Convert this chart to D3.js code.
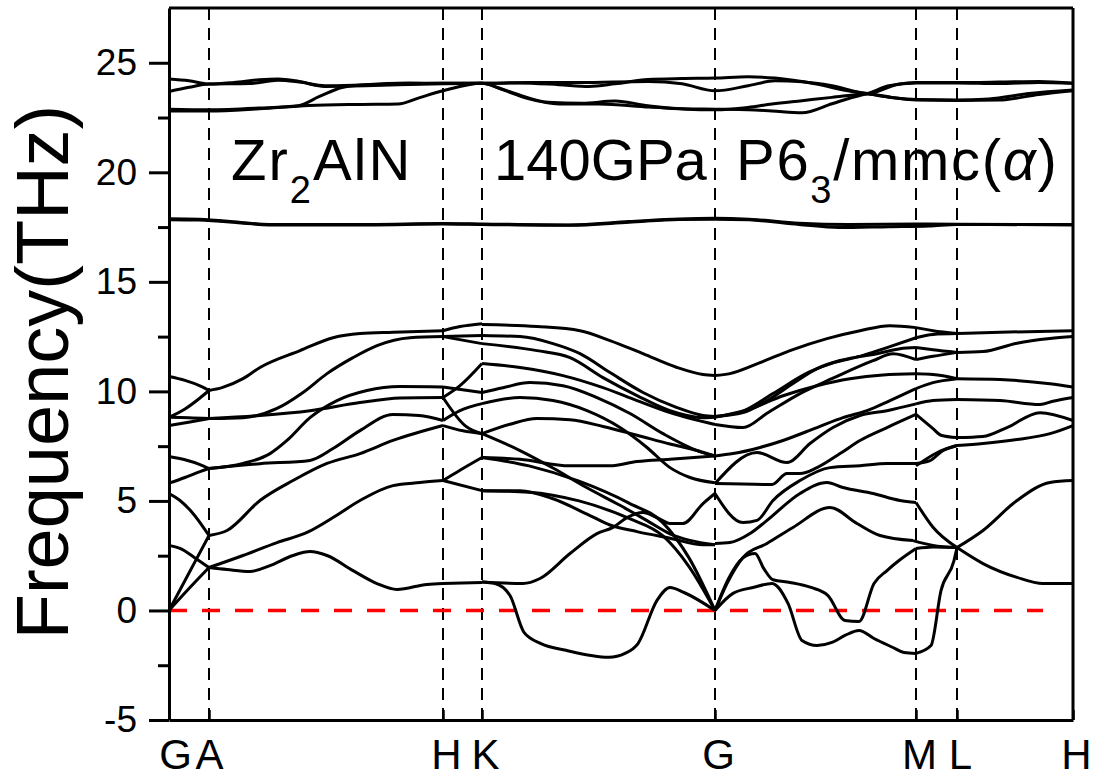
<!DOCTYPE html>
<html>
<head>
<meta charset="utf-8">
<script src="https://d3js.org/d3.v7.min.js"></script>
<style>
 body { margin: 0px; background: white; }
 text { font-family: "Liberation Sans", Arial, sans-serif; }
</style>
</head>
<body>
<svg id="mysvg"></svg>
<script>
// high symmetry points along the path (path distance, arbitrary units)
var kPoints = [0, 0.40, 2.74, 3.13, 5.46, 7.47, 7.88, 9.04];
var kLabels = ["G", "A", "H", "K", "G", "M", "L", "H"];
var yTicks = [-5, 0, 5, 10, 15, 20, 25];

// phonon branches [k, frequency THz]
var bandsGA = [
  [[0,10.68],[0.16,10.5],[0.31,10.25],[0.40,10.04]],
  [[0,8.82],[0.16,9.2],[0.31,9.7],[0.40,10.04]],
  [[0,8.82],[0.2,8.8],[0.40,8.76]],
  [[0,8.44],[0.21,8.6],[0.40,8.76]],
  [[0,7.03],[0.16,6.88],[0.31,6.66],[0.40,6.48]],
  [[0,5.81],[0.16,6.07],[0.31,6.34],[0.40,6.48]],
  [[0,5.33],[0.11,5.02],[0.24,4.43],[0.40,3.42]],
  [[0,2.97],[0.11,2.83],[0.26,2.4],[0.40,1.96]],
  [[0,0],[0.2,1.71],[0.40,3.42]],
  [[0,0],[0.2,1.0],[0.40,1.96]]
];

var bandsAH = [
  [[0.40,10.04],[0.53,10.17],[0.74,10.58],[0.91,11.09],[1.31,11.86],[1.64,12.45],[1.91,12.64],[2.24,12.7],[2.74,12.77]],
  [[0.40,8.76],[0.74,8.8],[1.08,9.22],[1.34,9.95],[1.58,10.81],[1.84,11.54],[2.08,12.09],[2.41,12.45],[2.74,12.5]],
  [[0.40,8.76],[0.91,8.9],[1.41,9.12],[1.91,9.49],[2.31,9.7],[2.74,9.72]],
  [[0.40,6.48],[0.74,6.71],[1.01,7.16],[1.18,7.76],[1.41,8.8],[1.68,9.58],[1.98,10.04],[2.31,10.22],[2.74,10.2]],
  [[0.40,6.48],[0.91,6.7],[1.41,6.85],[1.64,7.39],[1.91,8.21],[2.24,8.95],[2.5,8.9],[2.74,8.67]],
  [[0.40,3.42],[0.58,3.65],[0.91,5.02],[1.24,5.93],[1.58,6.71],[1.91,7.16],[2.24,7.76],[2.74,8.44]],
  [[0.40,1.96],[0.74,2.51],[1.08,3.1],[1.38,3.56],[1.64,4.24],[1.91,5.02],[2.24,5.7],[2.51,5.84],[2.74,5.93]],
  [[0.40,1.96],[0.58,1.87],[0.81,1.78],[1.01,2.05],[1.24,2.51],[1.41,2.69],[1.58,2.51],[1.84,1.82],[2.08,1.23],[2.28,0.96],[2.58,1.19],[2.74,1.23]]
];

var bandsHK = [
  [[2.74,12.77],[2.91,12.96],[3.13,13.09]],
  [[2.74,12.5],[3.13,12.55]],
  [[2.74,12.5],[3.13,12.18]],
  [[2.74,9.72],[2.91,10.26],[3.13,11.27]],
  [[2.74,10.2],[3.13,9.95]],
  [[2.74,8.67],[2.91,9.12],[3.13,9.44]],
  [[2.74,9.72],[2.96,8.44],[3.13,8.07]],
  [[2.74,8.44],[2.94,8.2],[3.13,8.07]],
  [[2.74,5.93],[2.91,6.4],[3.13,6.98]],
  [[2.74,5.93],[3.13,5.47]],
  [[2.74,1.23],[3.13,1.28]]
];

var bandsKG = [
  [[3.13,13.05],[3.68,12.96],[4.11,12.77],[4.41,12.32],[4.74,11.72],[5.08,11.09],[5.34,10.77],[5.46,10.72]],
  [[3.13,12.55],[3.51,12.5],[3.84,12.18],[4.11,11.72],[4.41,10.86],[4.74,9.95],[5.08,9.26],[5.34,8.9],[5.46,8.85]],
  [[3.13,12.18],[3.68,11.86],[4.01,11.54],[4.34,10.63],[4.68,9.81],[5.01,9.12],[5.34,8.8],[5.46,8.82]],
  [[3.13,11.27],[3.51,11.09],[3.94,10.72],[4.34,10.17],[4.68,9.58],[5.01,9.03],[5.46,8.49]],
  [[3.13,9.95],[3.34,10.17],[3.61,10.4],[3.94,10.26],[4.28,9.72],[4.61,8.99],[4.94,8.07],[5.28,7.3],[5.46,7.05]],
  [[3.13,9.44],[3.51,9.72],[3.84,9.58],[4.18,9.12],[4.51,8.35],[4.78,7.44],[5.01,6.52],[5.21,6.07],[5.46,5.83]],
  [[3.13,8.07],[3.41,8.5],[3.68,8.76],[4.01,8.7],[4.34,8.4],[4.68,8.0],[5.01,7.6],[5.28,7.3],[5.46,7.05]],
  [[3.13,8.07],[3.51,7.3],[3.84,6.5],[4.18,5.6],[4.51,4.8],[4.78,4.1],[5.01,3.5],[5.21,3.2],[5.46,3.0]],
  [[3.13,6.98],[3.51,6.9],[4.01,6.6],[4.41,6.6],[4.68,6.8],[5.01,6.9],[5.46,7.05]],
  [[3.13,5.47],[3.51,5.47],[3.84,5.1],[4.18,4.4],[4.41,3.9],[4.68,3.6],[5.01,3.3],[5.34,3.0],[5.46,3.0]],
  [[3.13,5.47],[3.6,5.4],[4.1,5.0],[4.6,4.2],[4.94,3.4],[5.2,2.0],[5.46,0]],
  [[3.13,6.98],[3.6,6.6],[4.1,5.9],[4.6,4.9],[4.94,4.0],[5.2,2.4],[5.46,0]],
  [[3.13,1.3],[3.54,1.23],[3.71,1.46],[4.01,2.6],[4.28,3.51],[4.44,3.79],[4.58,4.24],[4.74,4.47],[4.88,4.24],[5.01,3.97],[5.14,3.97],[5.34,4.88],[5.46,5.34]],
  [[3.13,1.3],[3.26,1.23],[3.41,0.68],[3.55,-1.0],[3.72,-1.51],[3.97,-1.82],[4.40,-2.14],[4.56,-1.96],[4.69,-1.51],[4.88,0.46],[5.01,1.05],[5.15,0.82],[5.46,0]]
];

var bandsGM = [
  [[5.46,10.72],[5.61,10.81],[5.91,11.31],[6.21,11.86],[6.58,12.41],[6.91,12.77],[7.21,13.0],[7.47,12.91]],
  [[5.46,8.85],[5.74,9.03],[5.98,9.58],[6.24,10.36],[6.48,11.04],[6.71,11.41],[6.91,11.59],[7.08,11.72],[7.31,11.95],[7.47,12.0]],
  [[5.46,8.85],[5.74,9.1],[6.04,9.9],[6.41,10.9],[6.64,11.3],[6.91,11.6],[7.18,12.0],[7.47,12.45]],
  [[5.46,8.82],[5.81,9.2],[6.14,9.8],[6.48,10.26],[6.81,10.58],[7.14,10.75],[7.47,10.8]],
  [[5.46,8.49],[5.74,8.35],[5.98,9.0],[6.31,9.9],[6.64,10.6],[7.04,11.4],[7.24,11.72],[7.47,11.45]],
  [[5.46,7.05],[5.64,7.16],[5.91,7.44],[6.14,7.76],[6.48,8.35],[6.74,8.8],[6.98,9.12],[7.21,9.58],[7.47,10.13]],
  [[5.46,5.79],[5.88,7.21],[6.18,6.75],[6.41,7.62],[6.64,8.35],[6.91,8.9],[7.18,9.12],[7.47,9.43]],
  [[5.46,5.79],[6.03,5.75],[6.18,6.25],[6.31,6.25],[6.48,6.52],[6.71,7.16],[6.91,7.76],[7.18,8.35],[7.47,8.95]],
  [[5.46,5.34],[5.74,4.01],[5.88,4.11],[6.04,5.02],[6.31,5.93],[6.61,6.52],[6.91,6.61],[7.18,6.71],[7.47,6.71]],
  [[5.46,3.06],[5.61,3.1],[5.81,3.51],[5.98,4.11],[6.31,5.34],[6.58,5.84],[6.74,5.61],[7.04,5.34],[7.31,5.02],[7.47,4.93]],
  [[5.46,0],[5.58,1.23],[5.74,2.42],[5.98,3.06],[6.24,3.79],[6.61,4.7],[6.88,3.97],[7.11,3.42],[7.44,3.19]],
  [[5.46,0],[5.6,1.5],[5.74,2.4],[5.86,2.6],[5.95,1.9],[6.04,1.4],[6.21,1.28],[6.42,1.05],[6.59,0.68],[6.76,-0.46],[6.9,-0.5],[7.05,1.23],[7.18,1.82],[7.3,2.28],[7.47,2.83]],
  [[5.46,0],[5.64,0.78],[5.84,1.05],[6.03,1.23],[6.19,0.32],[6.33,-1.37],[6.48,-1.6],[6.63,-1.46],[6.76,-1.14],[6.9,-0.91],[7.05,-1.28],[7.24,-1.69],[7.35,-1.92],[7.47,-1.96]]
];

var bandsML = [
  [[7.47,12.91],[7.64,12.77],[7.88,12.64]],
  [[7.47,12.45],[7.64,12.6],[7.88,12.64]],
  [[7.47,12.0],[7.64,11.9],[7.88,11.78]],
  [[7.47,11.45],[7.64,11.6],[7.88,11.78]],
  [[7.47,10.8],[7.64,10.77],[7.88,10.58]],
  [[7.47,10.13],[7.64,10.4],[7.88,10.58]],
  [[7.47,9.43],[7.64,9.58],[7.88,9.63]],
  [[7.47,8.95],[7.64,8.3],[7.72,8.0],[7.88,7.89]],
  [[7.47,6.71],[7.61,6.84],[7.74,7.3],[7.88,7.53]],
  [[7.47,6.6],[7.68,7.2],[7.88,7.53]],
  [[7.47,4.93],[7.64,3.8],[7.88,2.87]],
  [[7.44,3.19],[7.64,2.97],[7.88,2.87]],
  [[7.47,2.83],[7.64,2.9],[7.88,2.87]],
  [[7.47,-1.96],[7.62,-1.6],[7.72,0.91],[7.85,2.28],[7.88,2.87]]
];

var bandsLH = [
  [[7.88,12.64],[8.31,12.7],[9.04,12.77]],
  [[7.88,11.78],[8.14,11.82],[8.48,12.2],[8.81,12.41],[9.04,12.5]],
  [[7.88,10.58],[8.31,10.54],[8.81,10.35],[9.04,10.2]],
  [[7.88,9.63],[8.31,9.58],[8.71,9.4],[8.84,9.55],[9.04,9.72]],
  [[7.88,7.89],[8.14,7.94],[8.38,8.35],[8.71,9.03],[9.04,8.67]],
  [[7.88,7.53],[8.14,7.62],[8.48,7.8],[8.81,8.07],[9.04,8.44]],
  [[7.88,2.87],[8.14,3.65],[8.48,5.02],[8.81,5.84],[9.04,5.93]],
  [[7.88,2.87],[8.14,2.14],[8.48,1.51],[8.74,1.23],[9.04,1.23]]
];

// nitrogen-like optical branches, whole path
var bandsHigh = [
  [[0,24.26],[0.2,24.18],[0.4,24.03],[0.65,24.1],[0.9,24.22],[1.09,24.26],[1.3,24.15],[1.56,23.92],[1.96,23.95],[2.29,24.0],[2.74,24.04],[3.13,24.06],[3.5,24.08],[3.9,24.0],[4.2,23.92],[4.46,24.04],[4.79,24.24],[5.13,24.28],[5.46,24.3],[5.79,24.36],[6.06,24.3],[6.46,24.04],[6.79,23.72],[6.99,23.58],[7.25,23.4],[7.47,23.32],[7.88,23.3],[8.2,23.35],[8.6,23.6],[9.04,23.76]],
  [[0,23.69],[0.2,23.88],[0.4,24.03],[0.8,24.05],[1.09,24.2],[1.3,24.12],[1.56,23.95],[2.0,24.0],[2.74,24.06],[3.13,24.06],[3.6,24.1],[4.1,24.1],[4.79,24.15],[5.13,24.04],[5.46,23.72],[5.79,23.95],[6.06,24.18],[6.33,24.13],[6.63,23.95],[6.99,23.6],[7.29,24.02],[7.47,24.1],[7.88,24.1],[8.3,24.12],[8.7,24.15],[9.04,24.06]],
  [[0,22.88],[0.4,22.85],[0.9,22.93],[1.29,23.04],[1.5,23.45],[1.73,23.87],[1.96,24.0],[2.4,24.08],[2.74,24.06],[3.13,24.06],[3.3,23.85],[3.46,23.6],[3.79,23.2],[4.13,23.15],[4.46,23.25],[4.79,23.04],[5.13,22.9],[5.46,22.88],[5.79,22.86],[6.03,22.8],[6.33,22.72],[6.63,23.13],[6.79,23.36],[6.99,23.6],[7.2,23.95],[7.47,24.08],[7.88,24.08],[8.3,24.05],[8.7,24.1],[9.04,24.06]],
  [[0,22.8],[0.4,22.8],[0.9,22.9],[1.4,23.05],[1.9,23.1],[2.29,23.12],[2.5,23.4],[2.74,23.72],[3.13,24.06],[3.35,23.75],[3.6,23.35],[3.9,23.12],[4.3,23.12],[4.8,22.98],[5.46,22.85],[5.79,22.96],[6.03,23.12],[6.33,23.27],[6.63,23.42],[6.99,23.58],[7.25,23.4],[7.47,23.3],[7.88,23.28],[8.3,23.3],[8.7,23.55],[9.04,23.72]],
  [[0,17.88],[0.3,17.86],[0.75,17.7],[1.0,17.62],[2.0,17.62],[2.74,17.66],[3.13,17.64],[4.0,17.6],[4.6,17.75],[5.1,17.87],[5.46,17.9],[5.8,17.86],[6.3,17.68],[6.8,17.62],[7.47,17.64],[7.88,17.63],[9.04,17.62]],
  [[0,17.84],[0.3,17.82],[0.75,17.68],[1.0,17.6],[2.0,17.6],[2.74,17.64],[3.13,17.62],[4.0,17.58],[4.6,17.72],[5.1,17.85],[5.46,17.86],[5.8,17.83],[6.3,17.62],[6.7,17.48],[7.2,17.52],[7.6,17.55],[7.88,17.62],[9.04,17.6]]
];

var zeroEnd = 8.74;

var W = 1103, H = 778;
var svg = d3.select("#mysvg")
  .attr("width", W)
  .attr("height", H)
  .style("background-color", "white");

var xScale = d3.scaleLinear()
  .domain([0, 9.04])
  .range([169, 1073]);

var yScale = d3.scaleLinear()
  .domain([-5, 27.5])
  .range([720, 8]);

// dashed lines at the symmetry points
svg.selectAll("line.kline")
  .data(kPoints.slice(1, 7))
  .enter().append("line")
  .attr("class", "kline")
  .attr("x1", function(d){ return xScale(d); })
  .attr("x2", function(d){ return xScale(d); })
  .attr("y1", yScale(27.5))
  .attr("y2", yScale(-5))
  .attr("stroke", "black")
  .attr("stroke-width", 2)
  .attr("stroke-dasharray", "12,8");

// zero line
svg.append("line")
  .attr("x1", xScale(0))
  .attr("x2", xScale(zeroEnd))
  .attr("y1", yScale(0))
  .attr("y2", yScale(0))
  .attr("stroke", "#ff0000")
  .attr("stroke-width", 3.5)
  .attr("stroke-dasharray", "18,15");

var line = d3.line()
  .x(function(d){ return xScale(d[0]); })
  .y(function(d){ return yScale(d[1]); })
  .curve(d3.curveMonotoneX);

var allBands = [].concat(bandsGA, bandsAH, bandsHK, bandsKG, bandsGM, bandsML, bandsLH, bandsHigh);

svg.append("g")
  .selectAll("path")
  .data(allBands)
  .enter().append("path")
  .attr("d", line)
  .attr("fill", "none")
  .attr("stroke", "black")
  .attr("stroke-width", 3)
  .attr("stroke-linejoin", "round");

// frame
svg.append("line")
  .attr("x1", xScale(0)).attr("x2", xScale(9.04))
  .attr("y1", yScale(27.5)).attr("y2", yScale(27.5))
  .attr("stroke", "black").attr("stroke-width", 3);
svg.append("line")
  .attr("x1", xScale(9.04)).attr("x2", xScale(9.04))
  .attr("y1", yScale(27.5)).attr("y2", yScale(-5))
  .attr("stroke", "black").attr("stroke-width", 3);

// y axis, minor then major ticks
svg.append("g")
  .attr("transform", "translate(" + xScale(0) + ",0)")
  .call(d3.axisLeft(yScale).tickValues(d3.range(-2.5, 27.5, 5)).tickSize(11).tickFormat(""))
  .call(function(g){ g.select(".domain").remove(); })
  .selectAll("line").attr("stroke-width", 3);

var yAxis = svg.append("g")
  .attr("transform", "translate(" + xScale(0) + ",0)")
  .call(d3.axisLeft(yScale).tickValues(yTicks).tickSize(20).tickSizeOuter(0).tickPadding(12)
        .tickFormat(function(d){ return String(d); }));
yAxis.select(".domain").attr("stroke-width", 3);
yAxis.selectAll("line").attr("stroke-width", 3);
yAxis.selectAll("text")
  .attr("font-size", 37)
  .attr("fill", "black")
  .style("font-family", "'Liberation Sans', Arial, sans-serif");

// x axis with ticks inward
var xAxis = svg.append("g")
  .attr("transform", "translate(0," + yScale(-5) + ")")
  .call(d3.axisBottom(xScale).tickValues(kPoints).tickSize(-10).tickSizeOuter(0)
        .tickFormat(function(d, i){ return kLabels[i]; }));
xAxis.select(".domain").attr("stroke-width", 3);
xAxis.selectAll("line").attr("stroke-width", 2.5);
xAxis.selectAll("text")
  .attr("font-size", 42)
  .attr("fill", "black")
  .attr("y", 49)
  .attr("dy", 0)
  .attr("dx", function(d, i){ return i == 0 ? 6 : (i == 1 ? 0 : 3); })
  .style("font-family", "'Liberation Sans', Arial, sans-serif");

// y title
svg.append("text")
  .attr("transform", "translate(68," + 372 + ") rotate(-90)")
  .attr("text-anchor", "middle")
  .attr("font-size", 74)
  .text("Frequency(THz)");

// annotations
var note = svg.append("text")
  .attr("font-size", 58)
  .attr("letter-spacing", 2)
  .attr("y", 180);
note.append("tspan").attr("x", 231).text("Zr");
note.append("tspan").attr("font-size", 38).attr("dy", 23).text("2");
note.append("tspan").attr("dy", -23).text("AlN");

svg.append("text")
  .attr("font-size", 58)
  .attr("x", 494)
  .attr("y", 180)
  .text("140GPa");

var sg = svg.append("text")
  .attr("font-size", 58)
  .attr("letter-spacing", 1.7)
  .attr("x", 736)
  .attr("y", 180);
sg.append("tspan").text("P6");
sg.append("tspan").attr("font-size", 38).attr("dy", 23).text("3");
sg.append("tspan").attr("dy", -23).text("/mmc(");
sg.append("tspan").attr("font-style", "italic").text("α");
sg.append("tspan").text(")");
</script>
</body>
</html>
